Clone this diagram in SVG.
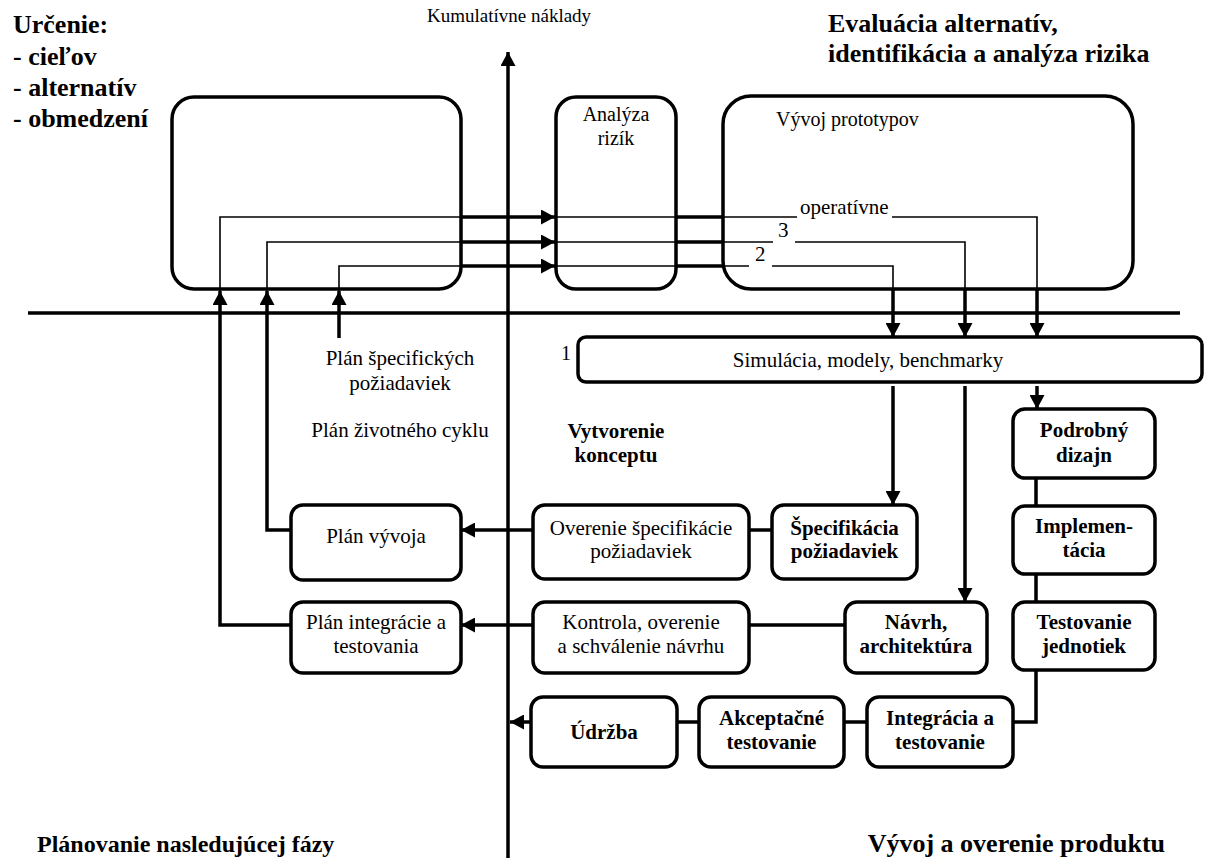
<svg xmlns="http://www.w3.org/2000/svg" width="1206" height="862" viewBox="0 0 1206 862" font-family="Liberation Serif, Times New Roman, DejaVu Serif, serif">
  <style>
    text { font-family: "Liberation Serif", "Times New Roman", "DejaVu Serif", serif; fill: #000; }
    .t { font-size: 21px; }
    .s { font-size: 20px; }
    .k { font-size: 19px; }
    .b { font-size: 21px; font-weight: bold; }
    .h { font-size: 26px; font-weight: bold; }
    .c { text-anchor: middle; }
    .box { fill: #fff; stroke: #000; stroke-width: 3.5; }
    .big { fill: none; stroke: #000; stroke-width: 3.5; }
    .thick { fill: none; stroke: #000; stroke-width: 3.5; }
    .thin { fill: none; stroke: #000; stroke-width: 1.6; }
    .axis { fill: none; stroke: #000; stroke-width: 3.5; }
  </style>
  <defs>
    <marker id="arrow" markerUnits="userSpaceOnUse" markerWidth="15" markerHeight="15" refX="14" refY="7.5" orient="auto">
      <path d="M0,0 L14,7.5 L0,15 z" fill="#000"/>
    </marker>
  </defs>

  <rect width="1206" height="862" fill="#fff"/>

  <!-- quadrant headings -->
  <g id="headings">
    <text class="h" x="13" y="33">Určenie:</text>
    <text class="h" x="13" y="65">- cieľov</text>
    <text class="h" x="13" y="96">- alternatív</text>
    <text class="h" x="13" y="127">- obmedzení</text>
    <text class="h" x="828" y="32">Evaluácia alternatív,</text>
    <text class="h" x="828" y="62">identifikácia a analýza rizika</text>
    <text class="h" x="37" y="852" style="font-size:24px">Plánovanie nasledujúcej fázy</text>
    <text class="h" x="1165" y="852" text-anchor="end">Vývoj a overenie produktu</text>
    <text class="k" x="427" y="22">Kumulatívne náklady</text>
  </g>

  <!-- axes -->
  <g id="axes">
    <path class="axis" d="M508,858 V52" marker-end="url(#arrow)"/>
    <path class="axis" d="M28,313 H1180"/>
  </g>

  <!-- upper region containers -->
  <g id="urcenie-box">
    <rect class="big" x="172" y="97" width="289" height="192" rx="22"/>
  </g>
  <g id="analyza-rizik">
    <rect class="big" x="556" y="97" width="120" height="192" rx="20"/>
    <text class="s c" x="616" y="121">Analýza</text>
    <text class="s c" x="616" y="145">rizík</text>
  </g>
  <g id="vyvoj-prototypov">
    <rect class="big" x="723" y="96" width="410" height="193" rx="28"/>
    <text class="s" x="776" y="126">Vývoj prototypov</text>
  </g>

  <!-- free labels -->
  <g id="labels">
    <text class="t c" x="400" y="365">Plán špecifických</text>
    <text class="t c" x="400" y="390">požiadaviek</text>
    <text class="t c" x="400" y="437">Plán životného cyklu</text>
    <text class="b c" x="616" y="438">Vytvorenie</text>
    <text class="b c" x="616" y="462">konceptu</text>
    <text class="s" x="561" y="360">1</text>
    <text class="t" x="800" y="214">operatívne</text>
    <text class="t" x="778" y="237">3</text>
    <text class="t" x="755" y="261">2</text>
  </g>

  <!-- nodes -->
  <g id="simulacia">
    <rect class="box" x="578" y="337" width="624" height="45" rx="8"/>
    <text class="t c" x="868" y="367">Simulácia, modely, benchmarky</text>
  </g>
  <g id="podrobny-dizajn">
    <rect class="box" x="1013" y="409" width="142" height="69" rx="12"/>
    <text class="b c" x="1084" y="437">Podrobný</text>
    <text class="b c" x="1084" y="462">dizajn</text>
  </g>
  <g id="implementacia">
    <rect class="box" x="1013" y="506" width="142" height="68" rx="12"/>
    <text class="b c" x="1084" y="533">Implemen-</text>
    <text class="b c" x="1084" y="557">tácia</text>
  </g>
  <g id="testovanie-jednotiek">
    <rect class="box" x="1013" y="602" width="142" height="68" rx="12"/>
    <text class="b c" x="1084" y="629">Testovanie</text>
    <text class="b c" x="1084" y="653">jednotiek</text>
  </g>
  <g id="specifikacia">
    <rect class="box" x="772" y="505" width="145" height="74" rx="12"/>
    <text class="b c" x="844.5" y="535">Špecifikácia</text>
    <text class="b c" x="844.5" y="558">požiadaviek</text>
  </g>
  <g id="overenie-specifikacie">
    <rect class="box" x="533" y="505" width="216" height="74" rx="12"/>
    <text class="t c" x="641" y="535">Overenie špecifikácie</text>
    <text class="t c" x="641" y="558">požiadaviek</text>
  </g>
  <g id="plan-vyvoja">
    <rect class="box" x="291" y="505" width="170" height="75" rx="12"/>
    <text class="t c" x="376" y="543">Plán vývoja</text>
  </g>
  <g id="navrh">
    <rect class="box" x="845" y="602" width="142" height="71" rx="12"/>
    <text class="b c" x="916" y="629">Návrh,</text>
    <text class="b c" x="916" y="653">architektúra</text>
  </g>
  <g id="kontrola-navrhu">
    <rect class="box" x="533" y="602" width="216" height="71" rx="12"/>
    <text class="t c" x="641" y="629">Kontrola, overenie</text>
    <text class="t c" x="641" y="653">a schválenie návrhu</text>
  </g>
  <g id="plan-integracie">
    <rect class="box" x="291" y="602" width="170" height="71" rx="12"/>
    <text class="t c" x="376" y="629">Plán integrácie a</text>
    <text class="t c" x="376" y="653">testovania</text>
  </g>
  <g id="integracia">
    <rect class="box" x="867" y="697" width="146" height="70" rx="12"/>
    <text class="b c" x="940" y="725">Integrácia a</text>
    <text class="b c" x="940" y="749">testovanie</text>
  </g>
  <g id="akceptacne-testovanie">
    <rect class="box" x="699" y="697" width="145" height="70" rx="12"/>
    <text class="b c" x="771.5" y="725">Akceptačné</text>
    <text class="b c" x="771.5" y="749">testovanie</text>
  </g>
  <g id="udrzba">
    <rect class="box" x="531" y="697" width="146" height="70" rx="12"/>
    <text class="b c" x="604" y="739">Údržba</text>
  </g>

  <!-- connectors -->
  <g id="connectors">
    <!-- planning loops back up into the determination box -->
    <path class="thick" d="M291,625 H220 V291" marker-end="url(#arrow)"/>
    <path class="thick" d="M291,530 H267 V291" marker-end="url(#arrow)"/>
    <path class="thick" d="M339,338 V291" marker-end="url(#arrow)"/>
    <path class="thin" d="M220,291 V217 H461"/>
    <path class="thin" d="M267,291 V242 H461"/>
    <path class="thin" d="M339,291 V266 H461"/>
    <path class="thick" d="M461,217 H555" marker-end="url(#arrow)"/>
    <path class="thick" d="M461,242 H555" marker-end="url(#arrow)"/>
    <path class="thick" d="M461,266 H555" marker-end="url(#arrow)"/>
    <path class="thin" d="M556,217 H676 M556,242 H676 M556,266 H676"/>
    <path class="thick" d="M676,217 H723 M676,242 H723 M676,266 H723"/>
    <path class="thin" d="M723,217 H797 M892,217 H1037 V289"/>
    <path class="thin" d="M723,242 H773 M795,242 H965 V289"/>
    <path class="thin" d="M723,266 H749 M772,266 H893 V289"/>
    <path class="thick" d="M1037,289 V337" marker-end="url(#arrow)"/>
    <path class="thick" d="M965,289 V337" marker-end="url(#arrow)"/>
    <path class="thick" d="M893,289 V337" marker-end="url(#arrow)"/>
    <!-- from simulation down -->
    <path class="thick" d="M893,386 V505" marker-end="url(#arrow)"/>
    <path class="thick" d="M965,386 V602" marker-end="url(#arrow)"/>
    <path class="thick" d="M1037,386 V409" marker-end="url(#arrow)"/>
    <!-- verification rows -->
    <path class="thick" d="M772,530 H749"/>
    <path class="thick" d="M533,530 H461" marker-end="url(#arrow)"/>
    <path class="thick" d="M845,625 H749"/>
    <path class="thick" d="M533,625 H461" marker-end="url(#arrow)"/>
    <!-- product chain -->
    <path class="thick" d="M1036,478 V506 M1036,574 V602"/>
    <path class="thick" d="M1036,670 V722 H1013"/>
    <path class="thick" d="M867,722 H844 M699,722 H677"/>
    <path class="thick" d="M531,722 H510" marker-end="url(#arrow)"/>
  </g>
</svg>
